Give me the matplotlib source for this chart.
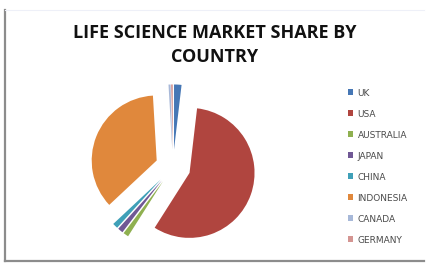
import matplotlib
matplotlib.use("Agg")
import matplotlib.pyplot as plt
from matplotlib.lines import Line2D

# ── data ──────────────────────────────────────────────────────────────────────
countries = ["UK", "USA", "AUSTRALIA", "JAPAN", "CHINA", "INDONESIA", "CANADA", "GERMANY"]
share = [1.8, 55.5, 1.3, 1.3, 1.3, 35.0, 0.5, 0.4]
colors = ["#4677B5", "#B0453F", "#8FB050", "#705895", "#3FA0B8", "#E0883C", "#A7B8D8", "#D49592"]

W, H = 435, 267
fig = plt.figure(figsize=(W / 100, H / 100), dpi=100)
fig.patch.set_facecolor("white")

# ── frame lines ───────────────────────────────────────────────────────────────
def px(x, y):
    return x / W, 1 - y / H

for (x0, y0), (x1, y1), c, lw in [
    (px(5, 10), px(5, 261), "#8c8c8c", 1.6),
    (px(5, 261), px(424, 261), "#8c8c8c", 1.6),
    (px(5, 10), px(424, 10), "#eef0f8", 0.8),
]:
    fig.add_artist(Line2D([x0, x1], [y0, y1], color=c, lw=lw, transform=fig.transFigure))

# ── title ─────────────────────────────────────────────────────────────────────
fig.text(215 / W, 1 - 45 / H, "LIFE SCIENCE MARKET SHARE BY\nCOUNTRY", ha="center", va="center",
         fontsize=13, fontweight="bold", family="Open Sans", color="#111111", linespacing=1.4)

# ── pie ───────────────────────────────────────────────────────────────────────
R = 65          # pixel radius
cx, cy = 173, 167
span = 1.5 * R
ax = fig.add_axes([(cx - span) / W, 1 - (cy + span) / H, 2 * span / W, 2 * span / H])
wedges, _ = ax.pie(share, colors=colors, startangle=90, counterclock=False,
                   explode=[0.27] * len(share), wedgeprops=dict(linewidth=0))
ax.set_xlim(-1.5, 1.5)
ax.set_ylim(-1.5, 1.5)
ax.set_aspect("auto")
ax.axis("off")

# ── legend ────────────────────────────────────────────────────────────────────
fig.legend(wedges, countries, loc="upper left", bbox_to_anchor=px(348, 88.5), frameon=False,
           prop=dict(family="DejaVu Sans", size=6.5), labelcolor="#4a4a4a",
           handlelength=0.6, handleheight=0.6, handletextpad=0.45, labelspacing=1.33,
           borderaxespad=0, borderpad=0)

fig.savefig("out.png", dpi=100)
